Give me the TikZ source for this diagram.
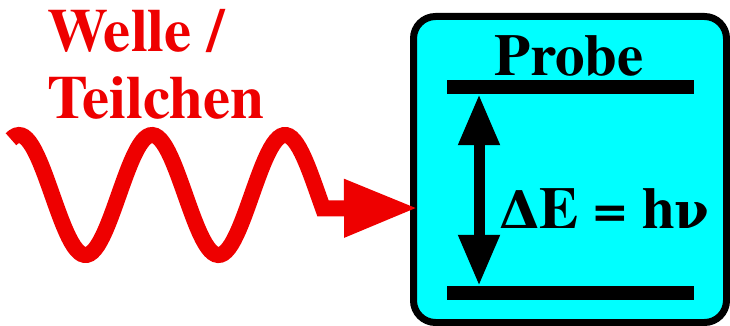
\documentclass[tikz,border=0pt]{standalone}
\usepackage{fontspec}
\setmainfont{texgyretermes}[Extension=.otf,UprightFont=*-regular,BoldFont=*-bold]
\newfontfamily\greekfont{DejaVu Serif}
\usetikzlibrary{arrows.meta}
\definecolor{wavered}{RGB}{238,0,0}
\definecolor{probecyan}{RGB}{0,255,255}

\begin{document}
\begin{tikzpicture}[x=1pt,y=-1pt,
  every node/.style={font=\fontsize{59}{66}\selectfont\bfseries,inner sep=0pt},
  redtext/.style={wavered,anchor=base west,font=\fontsize{61}{66}\selectfont\bfseries},
  niveau/.style={fill=black,minimum width=247pt,minimum height=14pt},
  wave/.style={wavered,line width=16pt,-{Triangle[length=74pt,width=54pt]}},
  dblarrow/.style={line width=11pt,{Triangle[length=51pt,width=39pt]}-{Triangle[length=51pt,width=39pt]}}]
  \useasboundingbox (0,0) rectangle (730,326);
  \node[redtext] (welle) at (47,52) {Welle /};
  \node[redtext] (teilchen) at (47,118) {Teilchen};

  \node[draw,line width=7pt,rounded corners=22pt,fill=probecyan,
    minimum width=313pt,minimum height=306pt] (probebox) at (570,169.5) {};
  \node[anchor=base] (probe) at (569,76) {Probe};
  \node[niveau] (upper) at (570.5,87) {};
  \node[niveau] (lower) at (570.5,293) {};
  \coordinate (arrx) at (479,0);
  \draw[dblarrow] (upper.south -| arrx) -- (lower.north -| arrx);
  \node[anchor=base] (energy) at (604.5,228)
    {{\greekfont\fontsize{52}{60}\selectfont\bfseries Δ}E = h{\greekfont\fontsize{50}{60}\selectfont ν}};

  % incoming wave
  \path (probebox.west) ++(8,0) coordinate (tipx);
  \coordinate (wavey) at (0,208);
  \draw[wave] plot[domain=11:323,samples=120] (\x,{195-60*cos((\x-19)/133*360)})
    -- (tipx |- wavey);
\end{tikzpicture}
\end{document}
